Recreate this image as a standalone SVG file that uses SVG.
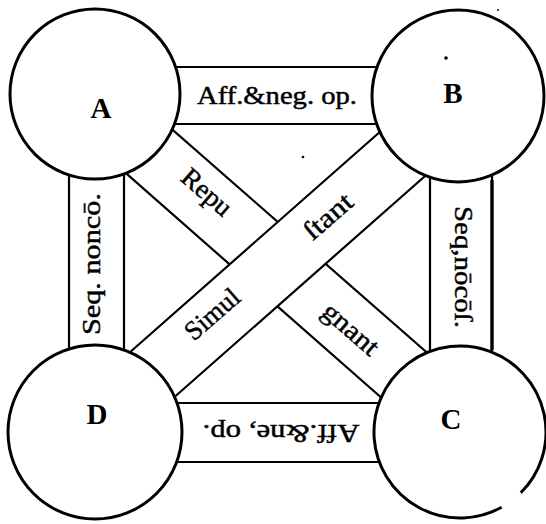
<svg xmlns="http://www.w3.org/2000/svg" width="546" height="524" viewBox="0 0 546 524">
  <style>
    .band { fill: #fff; stroke: #000; stroke-width: 2.2; stroke-linejoin: round; }
    .node circle, .node path { fill: #fff; stroke: #000; stroke-width: 3; }
    .lbl { font-family: "Liberation Serif", "DejaVu Serif", serif; font-weight: bold; font-size: 29px; text-anchor: middle; fill: #000; }
    .bt { font-family: "Liberation Serif", "DejaVu Serif", serif; font-size: 25px; text-anchor: middle; fill: #000; stroke: #000; stroke-width: 0.45; }
    .dg { font-size: 27px; }
    .dot { fill: #000; }
  </style>
  <rect width="546" height="524" fill="#fff"/>
  <g id="connectors">
    <g id="band-AB">
      <rect class="band" x="95" y="67" width="363" height="57"/>
      <text class="bt" x="277" y="104" textLength="160" lengthAdjust="spacingAndGlyphs">Aff.&amp;neg. op.</text>
    </g>
    <g id="band-DC">
      <rect class="band" x="95" y="403" width="365" height="59"/>
      <text class="bt" transform="translate(281,433) rotate(180)" x="0" y="8" textLength="157" lengthAdjust="spacingAndGlyphs">Aff.&amp;ne, op.</text>
    </g>
    <g id="band-AD">
      <rect class="band" x="69" y="94" width="55" height="338"/>
      <text class="bt" transform="translate(100,264) rotate(-90)" x="0" y="0" textLength="142" lengthAdjust="spacingAndGlyphs">Seq. noncō.</text>
    </g>
    <g id="band-BC">
      <rect class="band" x="430" y="96" width="62" height="336"/>
      <line x1="492" y1="180" x2="492" y2="350" stroke="#000" stroke-width="3.4"/>
      <text class="bt" transform="translate(455,267) rotate(90)" x="0" y="0" textLength="122" lengthAdjust="spacingAndGlyphs">Seq,nōcōſ.</text>
    </g>
    <g id="band-AC">
      <polygon class="band" points="145,105.7 456,378 409,422 98,148.7"/>
      <text class="bt dg" transform="translate(207,192) rotate(41)" x="0" y="9" textLength="58" lengthAdjust="spacingAndGlyphs">Repu</text>
      <text class="bt dg" transform="translate(349,331) rotate(41)" x="0" y="6" textLength="66" lengthAdjust="spacingAndGlyphs">gnant</text>
    </g>
    <g id="band-BD">
      <polygon class="band" points="402.5,112 107.5,372 155.5,413.8 445.5,158"/>
      <text class="bt dg" transform="translate(212,314) rotate(-41)" x="0" y="9" textLength="64" lengthAdjust="spacingAndGlyphs">Simul</text>
      <text class="bt dg" transform="translate(328,216) rotate(-41)" x="0" y="9" textLength="56" lengthAdjust="spacingAndGlyphs">ſtant</text>
    </g>
  </g>
  <g id="node-A" class="node">
    <circle cx="95" cy="94" r="85"/>
    <text class="lbl" x="101" y="118">A</text>
  </g>
  <g id="node-B" class="node">
    <circle cx="458" cy="96" r="86"/>
    <text class="lbl" x="453" y="103">B</text>
  </g>
  <g id="node-D" class="node">
    <circle cx="95" cy="432" r="87"/>
    <text class="lbl" x="97" y="424">D</text>
  </g>
  <g id="node-C" class="node">
    <path d="M 501.7 507.2 A 86 86 0 1 1 520.8 492.8"/>
    <text class="lbl" x="451" y="429">C</text>
  </g>
  <circle class="dot" cx="446" cy="58" r="1.8"/>
  <circle class="dot" cx="303" cy="157" r="1.3"/>
  <circle class="dot" cx="498" cy="10" r="1"/>
</svg>
